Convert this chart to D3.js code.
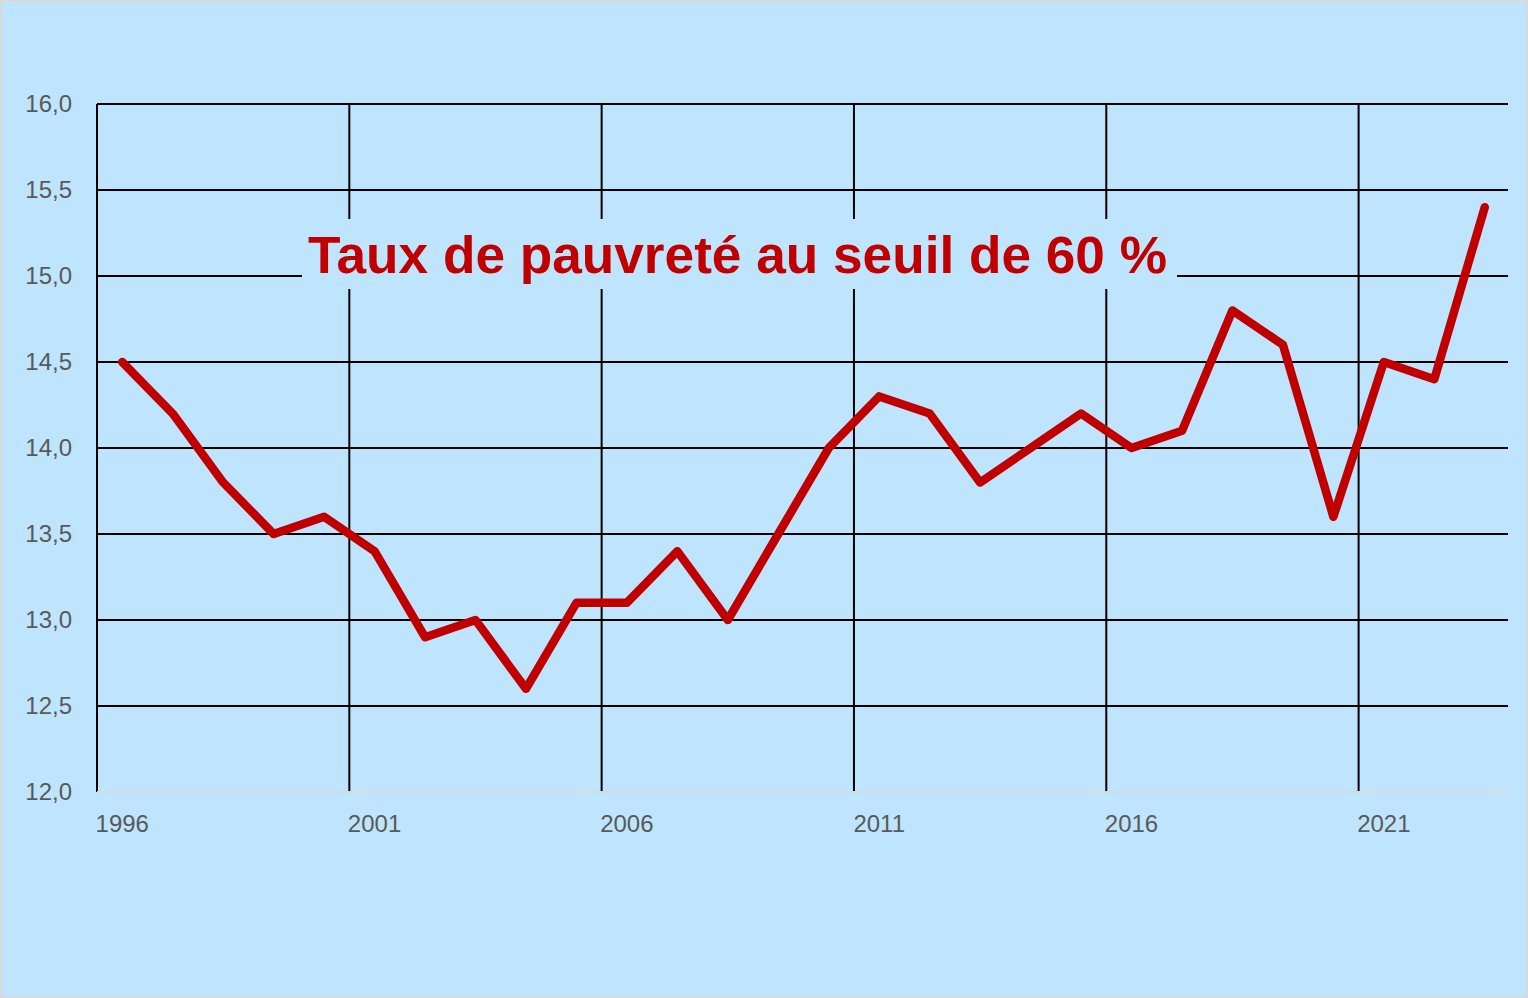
<!DOCTYPE html>
<html><head><meta charset="utf-8">
<script src="https://cdn.jsdelivr.net/npm/d3@7"></script>
<style>html,body{margin:0;padding:0;background:#fff;}svg{display:block;}</style>
</head><body>
<script>
const years = [1996,1997,1998,1999,2000,2001,2002,2003,2004,2005,2006,2007,2008,2009,2010,2011,2012,2013,2014,2015,2016,2017,2018,2019,2020,2021,2022,2023];
const rates = [14.5,14.2,13.8,13.5,13.6,13.4,12.9,13.0,12.6,13.1,13.1,13.4,13.0,13.5,14.0,14.3,14.2,13.8,14.0,14.2,14.0,14.1,14.8,14.6,13.6,14.5,14.4,15.4];
const yTicks = [12,12.5,13,13.5,14,14.5,15,15.5,16];
const xTickYears = [1996,2001,2006,2011,2016,2021];
const title = "Taux de pauvreté au seuil de 60 %";

const W = 1528, H = 998;
const svg = d3.select("body").append("svg").attr("width", W).attr("height", H);
svg.append("rect").attr("x",1).attr("y",1).attr("width",W-2).attr("height",H-2)
  .attr("fill","#bee5fd").attr("stroke","#d9d9d9").attr("stroke-width",2);

const x = d3.scaleLinear().domain([1996, 2024]).range([97, 1510]);
const y = d3.scaleLinear().domain([12, 16]).range([792, 104]);
const xEnd = 1508;

const g = svg.append("g");
g.selectAll(".hg").data(yTicks.filter(d => d > 12)).join("line")
  .attr("x1", x(1996)).attr("x2", xEnd).attr("y1", d => y(d)).attr("y2", d => y(d))
  .attr("stroke", "#000").attr("stroke-width", 2);
g.selectAll(".vg").data(xTickYears).join("line")
  .attr("x1", d => x(d)).attr("x2", d => x(d)).attr("y1", y(16)).attr("y2", y(12))
  .attr("stroke", "#000").attr("stroke-width", 2);
g.append("line").attr("x1", x(1996)).attr("x2", xEnd + 2).attr("y1", y(12)).attr("y2", y(12))
  .attr("stroke", "#d9d9d9").attr("stroke-width", 2);

const fmt = d => d.toFixed(1).replace(".", ",");
g.selectAll(".yl").data(yTicks).join("text")
  .attr("x", 72).attr("y", d => y(d)).attr("dy", "0.35em").attr("text-anchor", "end")
  .attr("font-family", "Liberation Sans, Arial, sans-serif").attr("font-size", 24)
  .attr("fill", "#595959").text(fmt);
g.selectAll(".xl").data(xTickYears).join("text")
  .attr("x", d => x(d + 0.5)).attr("y", 832).attr("text-anchor", "middle")
  .attr("font-family", "Liberation Sans, Arial, sans-serif").attr("font-size", 24)
  .attr("fill", "#595959").text(d => d);

svg.append("rect").attr("x", 302).attr("y", 219).attr("width", 875).attr("height", 70).attr("fill", "#bee5fd");
svg.append("text").attr("x", 308).attr("y", 273)
  .attr("font-family", "Liberation Sans, Arial, sans-serif").attr("font-weight", "bold")
  .attr("font-size", 51).attr("fill", "#c00000")
  .attr("textLength", 859).attr("lengthAdjust", "spacingAndGlyphs").text(title);

const line = d3.line().x((d, i) => x(years[i] + 0.5)).y(d => y(d));
svg.append("path").datum(rates).attr("d", line).attr("fill", "none")
  .attr("stroke", "#c00000").attr("stroke-width", 8.5)
  .attr("stroke-linejoin", "round").attr("stroke-linecap", "round");
</script>
</body></html>
